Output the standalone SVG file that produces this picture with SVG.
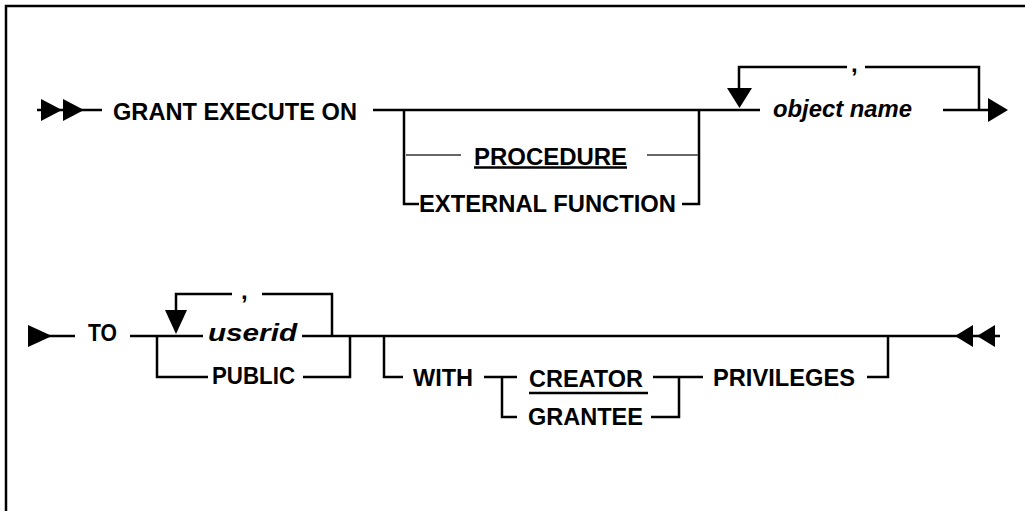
<svg xmlns="http://www.w3.org/2000/svg" width="1025" height="511" viewBox="0 0 1025 511">
<style>
.t{font-family:"Liberation Sans",Arial,sans-serif;font-weight:bold;font-size:24px;fill:#000}
.i{font-style:italic}
.l{fill:none;stroke:#000;stroke-width:2.5}
.g{fill:none;stroke:#666;stroke-width:2}
.a{fill:#000;stroke:none}
</style>
<rect width="1025" height="511" fill="#fff"/>
<path class="l" d="M6,511 V6 H1025" stroke-width="2"/>
<g id="connectors">
<path class="l" d="M37,110 H102"/>
<polygon class="a" points="41,99 62,110 41,121"/>
<polygon class="a" points="63,99 84,110 63,121"/>
<path class="l" d="M373,110 H760"/>
<path class="l" d="M404,110 V204 H419"/>
<path class="l" d="M699,110 V204 H682"/>
<path class="g" d="M406,155 H461"/>
<path class="g" d="M647,155 H698"/>
<path class="l" d="M739,90 V67 H847"/>
<path class="l" d="M865,67 H979 V110"/>
<polygon class="a" points="727,88 752,88 739.5,108"/>
<path class="l" d="M943,110 H990"/>
<polygon class="a" points="988,98 1008,110 988,122"/>
<polygon class="a" points="28,325 52,336 28,347"/>
<path class="l" d="M28,336 H75"/>
<path class="l" d="M130,336 H203"/>
<path class="l" d="M157,336 V377 H208"/>
<path class="l" d="M303,377 H350 V336"/>
<path class="l" d="M176,312 V294 H232"/>
<path class="l" d="M262,294 H332 V336"/>
<polygon class="a" points="165,310 187,310 176,334"/>
<path class="l" d="M302,336 H1000"/>
<path class="l" d="M384,336 V377 H403"/>
<path class="l" d="M484,377 H517"/>
<path class="l" d="M502,377 V417 H517"/>
<path class="l" d="M653,377 H703"/>
<path class="l" d="M651,417 H679 V377"/>
<path class="l" d="M867,377 H888 V336"/>
<polygon class="a" points="955,336 973,325 973,347"/>
<polygon class="a" points="977,336 995,325 995,347"/>
</g>
<g id="grant"><text class="t" x="113" y="120" textLength="244" lengthAdjust="spacingAndGlyphs">GRANT EXECUTE ON</text></g>
<g id="procedure"><text class="t" x="474" y="165" textLength="153" lengthAdjust="spacingAndGlyphs">PROCEDURE</text><path class="l" d="M474,167.5 H627" stroke-width="2"/></g>
<g id="external-function"><text class="t" x="419" y="212" textLength="257" lengthAdjust="spacingAndGlyphs">EXTERNAL FUNCTION</text></g>
<g id="comma1"><text class="t" x="851" y="72">,</text></g>
<g id="object-name"><text class="t i" x="773" y="117" textLength="139" lengthAdjust="spacingAndGlyphs">object name</text></g>
<g id="to"><text class="t" x="88" y="341" textLength="29" lengthAdjust="spacingAndGlyphs">TO</text></g>
<g id="comma2"><text class="t" x="241" y="299">,</text></g>
<g id="userid"><text class="t i" x="208" y="341" textLength="89" lengthAdjust="spacingAndGlyphs">userid</text></g>
<g id="public"><text class="t" x="212" y="384" textLength="83" lengthAdjust="spacingAndGlyphs">PUBLIC</text></g>
<g id="with"><text class="t" x="413" y="386" textLength="60" lengthAdjust="spacingAndGlyphs">WITH</text></g>
<g id="creator"><text class="t" x="529" y="387" textLength="114" lengthAdjust="spacingAndGlyphs">CREATOR</text><path class="l" d="M529,393 H648" stroke-width="2"/></g>
<g id="grantee"><text class="t" x="528" y="425" textLength="115" lengthAdjust="spacingAndGlyphs">GRANTEE</text></g>
<g id="privileges"><text class="t" x="713" y="386" textLength="142" lengthAdjust="spacingAndGlyphs">PRIVILEGES</text></g>
</svg>
